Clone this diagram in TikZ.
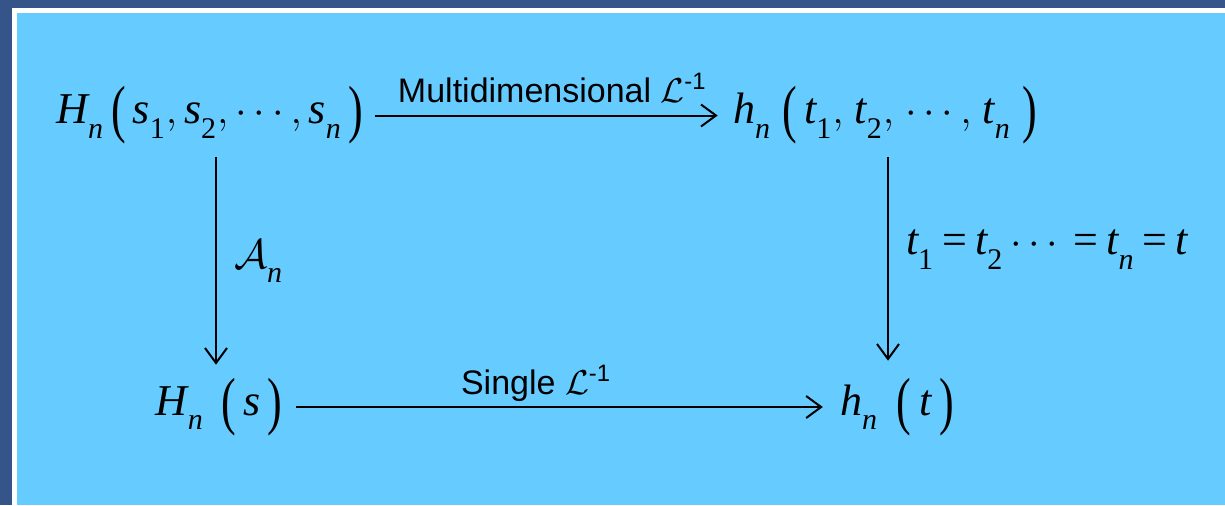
\documentclass[tikz,border=0pt]{standalone}
\usepackage{fontspec}
\setmainfont{Liberation Serif}
\setsansfont{Liberation Sans}
\usetikzlibrary{arrows.meta}
\definecolor{framebg}{RGB}{52,84,138}
\definecolor{panel}{RGB}{102,204,255}
\newcommand{\iv}[1]{\mathit{#1}}
\newcommand{\dn}[1]{_{\lower4pt\hbox{\fontsize{15}{15}\selectfont #1}}}
\newcommand{\lpar}{\mathopen{\mbox{\raisebox{-3.5pt}{\scalebox{1}[1.45]{(}}}}}
\newcommand{\rpar}{\mathclose{\mbox{\raisebox{-3.5pt}{\scalebox{1}[1.45]{)}}}}}
\newcommand{\eqs}{\mbox{\hspace{4pt}=\hspace{4pt}}}

\begin{document}
\begin{tikzpicture}[
    x=0.5pt, y=-0.5pt,
    every node/.style={inner sep=0pt, font=\fontsize{22}{26}\selectfont},
    map/.style={draw, line width=1pt, -{Straight Barb[length=7.5pt,width=11pt,line width=1pt]}},
    maplabel/.style={font=\sffamily\fontsize{17}{20}\selectfont, text depth=0pt, above=6pt},
    sidelabel/.style={right=8.5pt}
]
% frame and panel
\fill[framebg] (0,0) rectangle (1225,505);
\fill[white] (12,8) rectangle (1225,505);
\fill[panel] (17,13) rectangle (1225,505);
\useasboundingbox (0,0) rectangle (1225,505);

% the four corners
\node (Hmulti) at (210,115.5)
    {$\iv{H}\dn{\textit{n}}\,\lpar\,\iv{s}\dn{1},\iv{s}\dn{2},\cdots,\iv{s}\dn{\textit{n}}\,\rpar$};
\node (hmulti) at (885,115.5)
    {$\iv{h}\dn{\textit{n}}\;\lpar\,\iv{t}\dn{1},\hspace{2pt}\iv{t}\dn{2},\hspace{2pt}\cdots,\hspace{2pt}\iv{t}\dn{\textit{n}}\;\rpar$};
\node (Hsingle) at (219,407)
    {$\iv{H}\dn{\textit{n}}\hspace{9pt}\lpar\,\iv{s}\,\rpar$};
\node (hsingle) at (897,407)
    {$\iv{h}\dn{\textit{n}}\hspace{9pt}\lpar\hspace{4.5pt}\iv{t}\hspace{3.5pt}\rpar$};

% maps
\draw[map, shorten <=5.5pt, shorten >=7.5pt] (Hmulti) -- (hmulti)
    node[midway, maplabel, xshift=2pt] {Multidimensional $\mathcal{L}$\textsuperscript{-1}};
\draw[map, shorten <=7pt, shorten >=8.5pt] (Hsingle) -- (hsingle)
    node[pos=0.455, maplabel] {Single $\mathcal{L}$\textsuperscript{-1}};
\draw[map, shorten <=6pt, shorten >=6.5pt] ([xshift=3pt]Hmulti.south) -- ([xshift=-1.5pt]Hsingle.north)
    node[pos=0.5, sidelabel] {$\mathcal{A}\dn{\textit{n}}$};
\draw[map, shorten <=6pt, shorten >=8.5pt] ([xshift=1.5pt]hmulti.south) -- ([xshift=-4.5pt]hsingle.north)
    node[pos=0.45, sidelabel]
    {$\iv{t}\dn{1}\eqs\iv{t}\dn{2}\cdots\eqs\iv{t}\dn{\textit{n}}\eqs\iv{t}$};
\end{tikzpicture}
\end{document}
